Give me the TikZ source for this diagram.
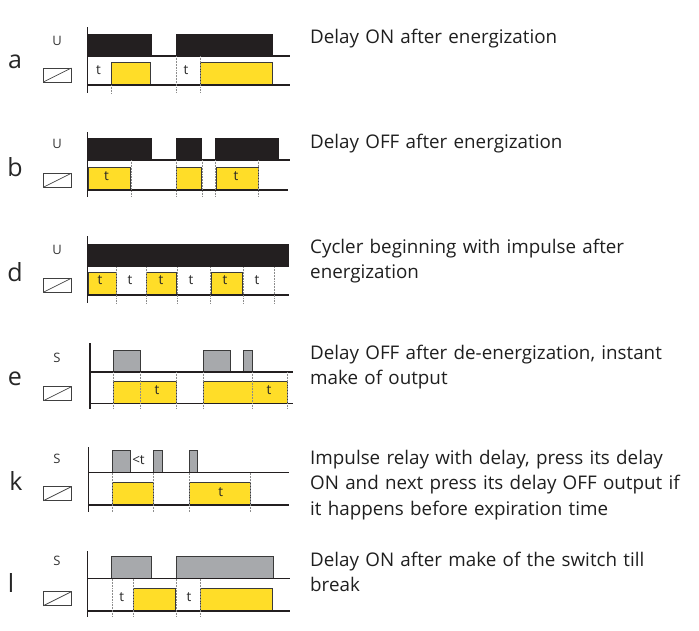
\documentclass[tikz,border=0pt]{standalone}
\usepackage{fontspec}
\setmainfont{Open Sans}
\definecolor{relayblack}{HTML}{231F20}
\definecolor{relayyellow}{HTML}{FFDD28}
\definecolor{relaygray}{HTML}{A7A9AC}
\definecolor{edgegray}{HTML}{3A3A3A}
\tikzset{
  axisline/.style={draw=relayblack,line width=1.3pt},
  tickline/.style={draw=black!45,line width=0.55pt,densely dotted},
  blackpulse/.style={fill=relayblack,draw=none},
  graypulse/.style={fill=relaygray,draw=edgegray,line width=0.9pt},
  yellowpulse/.style={fill=relayyellow,draw=edgegray,line width=0.9pt},
  coilbox/.style={draw=black!75,line width=0.7pt,fill=white},
  rowletter/.style={font=\fontsize{25}{25}\selectfont,text=black!85,inner sep=0pt},
  signame/.style={font=\fontsize{13}{13}\selectfont,text=black!80,inner sep=0pt},
  tlabel/.style={font=\fontsize{13.5}{14}\selectfont,text=black!85,inner sep=0pt},
  caption/.style={font=\fontsize{18.8}{25.5}\selectfont,text=black!88,inner sep=0pt,anchor=north west,align=left,text width=385pt,yshift=-4.7pt},
}
\newcommand{\relaycoil}[3]{% x, y top, name
  \draw[coilbox] (#1,#2) rectangle ++(28,14);
  \draw[coilbox] (#1,#2+14) -- ++(28,-14);
}
\newcommand{\pulses}[4]{% style, top, bottom, list a/b
  \foreach \pa/\pb in {#4} {\path[#1] (\pa,#2) rectangle (\pb,#3);}
}
\newcommand{\ticks}[3]{% from, to, list
  \foreach \pa in {#3} {\draw[tickline] (\pa,#1) -- (\pa,#2);}
}
\begin{document}
\begin{tikzpicture}[x=1pt,y=-1pt]
\useasboundingbox (0,0) rectangle (699,630);
% a
\pulses{yellowpulse}{62.7}{85}{111/150.3,200.7/272.5}
\pulses{blackpulse}{34}{56}{87.5/152,175.7/272.7}
\draw[axisline] (87.5,56) -- (290,56);
\draw[axisline] (87.5,85) -- (290,85);
\draw[axisline] (87.5,27) -- (87.5,93);
\ticks{56}{93}{176,200.7}
\ticks{85}{93}{111}
\node[tlabel] (ta1) at (98.5,70.5) {t};
\node[tlabel] (ta2) at (186,70.5) {t};
\node[rowletter] (la) at (15,62) {a};
\node[signame] (ua) at (57,41) {U};
\relaycoil{43.3}{68}{ca}
\node[caption] (capa) at (310,24) {Delay ON after energization};
% b
\pulses{yellowpulse}{167.3}{190}{88/130.3,176.5/201.5,216.5/258}
\pulses{blackpulse}{138.3}{160}{87.5/151.7,175.7/201.7,215/279}
\draw[axisline] (87.5,160) -- (290,160);
\draw[axisline] (87.5,190) -- (287.5,190);
\draw[axisline] (87.5,132) -- (87.5,197);
\ticks{160}{197}{131,176,202,215.5,258}
\node[tlabel] (tb1) at (106.5,176) {t};
\node[tlabel] (tb2) at (236,176) {t};
\node[rowletter] (lb) at (15,167) {b};
\node[signame] (ub) at (57,144) {U};
\relaycoil{43.3}{173.3}{cb}
\node[caption] (capb) at (310,129) {Delay OFF after energization};
% d
\pulses{yellowpulse}{272}{295}{88/116.3,146.3/176.3,211.3/242.3}
\pulses{blackpulse}{244}{266.7}{87.5/288.7}
\draw[axisline] (87.5,295) -- (288.7,295);
\draw[axisline] (87.5,236) -- (87.5,302.7);
\ticks{267}{302.7}{116,146,177,210.5,243.5,274.5}
\foreach \tx/\tn in {100/1,130/2,161/3,191/4,225/5,257/6} {\node[tlabel] (td\tn) at (\tx,280.5) {t};}
\node[rowletter] (ld) at (15,272) {d};
\node[signame] (ud) at (57,249.5) {U};
\relaycoil{43.3}{278.3}{cd}
\node[caption] (capd) at (310,234) {Cycler beginning with impulse after\\energization};
% e
\pulses{graypulse}{350.3}{372}{113.3/140.3,203.3/230,243.5/252}
\pulses{yellowpulse}{381.3}{403.7}{113.7/176,203.5/287.5}
\draw[axisline] (90,372) -- (292.7,372);
\draw[axisline] (90,403.7) -- (292.7,403.7);
\draw[axisline] (90,343) -- (90,408.7);
\ticks{372}{408.7}{113.5,140,176,203.5,252,287.5}
\node[tlabel] (te1) at (157,390) {t};
\node[tlabel] (te2) at (269,390) {t};
\node[rowletter] (le) at (15,379) {e};
\node[signame] (ue) at (57,358) {S};
\relaycoil{43.5}{386.7}{ce}
\node[caption] (cape) at (310,340) {Delay OFF after de-energization, instant\\make of output};
% k
\pulses{graypulse}{450.7}{472.7}{112.3/130,153.3/162.7,189.3/197.3}
\pulses{yellowpulse}{482.3}{505}{112.3/153.3,189.3/250.3}
\draw[axisline] (88.7,472.7) -- (288.7,472.7);
\draw[axisline] (88.7,505) -- (288.7,505);
\draw[axisline] (88.7,447.3) -- (88.7,511.7);
\ticks{472.7}{511.7}{112.3,153.3,189.3,250.3}
\node[tlabel] (tk1) at (138.5,460) {<t};
\node[tlabel] (tk2) at (220.7,492) {t};
\node[rowletter] (lk) at (16,481) {k};
\node[signame] (uk) at (57,459) {S};
\relaycoil{43.3}{486.7}{ck}
\node[caption] (capk) at (310,445) {Impulse relay with delay, press its delay\\ON and next press its delay OFF output if\\it happens before expiration time};
% l
\pulses{graypulse}{556}{578.7}{111.3/151.3,176.3/273}
\pulses{yellowpulse}{588.7}{611}{133.5/175.5,200.3/272.7}
\draw[axisline] (87.7,578.7) -- (289.7,578.7);
\draw[axisline] (87.7,611) -- (289.7,611);
\draw[axisline] (87.7,551) -- (87.7,616.7);
\ticks{578.7}{616.7}{112,133,176,200.3}
\node[tlabel] (tl1) at (121.7,597) {t};
\node[tlabel] (tl2) at (189,597) {t};
\node[rowletter] (ll) at (11,583) {l};
\node[signame] (ul) at (57,561) {S};
\relaycoil{43.3}{591.7}{cl}
\node[caption] (capl) at (310,547) {Delay ON after make of the switch till\\break};
\end{tikzpicture}
\end{document}
